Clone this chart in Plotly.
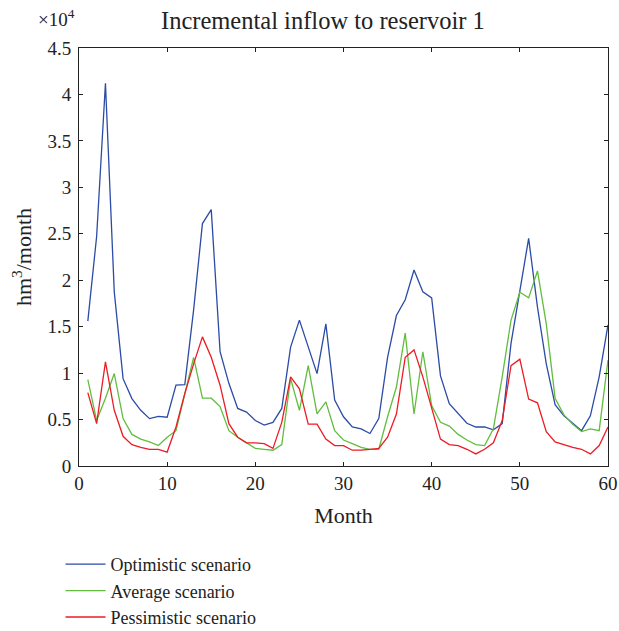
import plotly.graph_objects as go

# Monthly incremental inflow (units of 10^4 hm^3/month)
months = list(range(1, 61))

optimistic = [1.56, 2.47, 4.12, 1.875, 0.94, 0.726, 0.60, 0.51, 0.535, 0.525,
              0.87, 0.876, 1.68, 2.61, 2.76, 1.23, 0.89, 0.62, 0.58, 0.49,
              0.44, 0.47, 0.62, 1.28, 1.57, 1.28, 0.995, 1.53, 0.71, 0.53,
              0.42, 0.40, 0.35, 0.51, 1.17, 1.62, 1.79, 2.11, 1.875, 1.81,
              0.97, 0.67, 0.56, 0.46, 0.42, 0.42, 0.39, 0.456, 1.32, 1.89,
              2.45, 1.71, 1.10, 0.66, 0.54, 0.46, 0.38, 0.54, 0.96, 1.52]

average = [0.93, 0.49, 0.73, 0.995, 0.51, 0.34, 0.29, 0.26, 0.22, 0.31,
           0.38, 0.78, 1.17, 0.73, 0.73, 0.64, 0.38, 0.31, 0.25, 0.19,
           0.18, 0.17, 0.23, 0.94, 0.60, 1.08, 0.56, 0.69, 0.38, 0.28,
           0.24, 0.20, 0.18, 0.18, 0.53, 0.85, 1.43, 0.56, 1.23, 0.65,
           0.47, 0.43, 0.34, 0.28, 0.23, 0.22, 0.40, 0.96, 1.57, 1.87,
           1.81, 2.10, 1.53, 0.73, 0.55, 0.45, 0.37, 0.40, 0.38, 1.14]

pessimistic = [0.79, 0.456, 1.12, 0.60, 0.32, 0.23, 0.20, 0.18, 0.18, 0.15,
               0.42, 0.78, 1.10, 1.39, 1.17, 0.87, 0.456, 0.31, 0.25, 0.25,
               0.24, 0.19, 0.47, 0.96, 0.83, 0.45, 0.45, 0.29, 0.22, 0.22,
               0.17, 0.17, 0.18, 0.19, 0.31, 0.56, 1.17, 1.25, 0.96, 0.62,
               0.29, 0.23, 0.22, 0.18, 0.13, 0.18, 0.25, 0.49, 1.08, 1.15,
               0.72, 0.68, 0.37, 0.26, 0.23, 0.20, 0.18, 0.13, 0.22, 0.42]

series_names = ["Optimistic scenario", "Average scenario", "Pessimistic scenario"]
series_colors = ["#2b4ba6", "#62bd3e", "#ec1c24"]
x_ticks = [0, 10, 20, 30, 40, 50, 60]
y_ticks = [0, 0.5, 1, 1.5, 2, 2.5, 3, 3.5, 4, 4.5]
y_ticklabels = ["0", "0.5", "1", "1.5", "2", "2.5", "3", "3.5", "4", "4.5"]

FONT = "Liberation Serif"

fig = go.Figure()
for name, vals, col in zip(series_names, [optimistic, average, pessimistic], series_colors):
    fig.add_trace(go.Scatter(x=months, y=vals, mode="lines", name=name,
                             line=dict(color=col, width=1.3)))

L, R, T, B = 78.5, 11, 48, 165
W, H = 619, 631
pw = W - L - R
ph = H - T - B

def px_x(p):
    return (p - L) / pw

def px_y(p):
    return (H - B - p) / ph

axis_common = dict(showline=True, linecolor="#222", linewidth=1, mirror="ticks",
                   ticks="inside", ticklen=4, tickcolor="#222", showgrid=False,
                   zeroline=False, tickfont=dict(family=FONT, size=19, color="#222"))

fig.update_xaxes(range=[0, 60], tickvals=x_ticks, **axis_common,
                 title=dict(text="Month", font=dict(family=FONT, size=22, color="#222"),
                            standoff=14))
fig.update_yaxes(range=[0, 4.5], tickvals=y_ticks, ticktext=y_ticklabels, **axis_common,
                 ticklabelstandoff=3,
                 title=dict(text="hm<sup>3</sup>/month", font=dict(family=FONT, size=22, color="#222"),
                            standoff=9))

fig.add_annotation(text="Incremental inflow to reservoir 1", xref="paper", yref="paper",
                   x=px_x(323), y=px_y(20), xanchor="center", yanchor="middle",
                   showarrow=False, font=dict(family=FONT, size=24.5, color="#222"))
fig.add_annotation(text="×10<sup>4</sup>", xref="paper", yref="paper",
                   x=px_x(35), y=px_y(18), xanchor="left", yanchor="middle",
                   showarrow=False, font=dict(family=FONT, size=19, color="#222"))

fig.update_layout(
    width=W, height=H,
    margin=dict(l=L, r=R, t=T, b=B, autoexpand=False),
    plot_bgcolor="white", paper_bgcolor="white",
    showlegend=True,
    legend=dict(x=px_x(60), y=px_y(546), xanchor="left", yanchor="top",
                font=dict(family=FONT, size=18, color="#222"),
                itemwidth=40, tracegroupgap=0, bgcolor="rgba(0,0,0,0)"),
)

fig.write_html("out.html")
